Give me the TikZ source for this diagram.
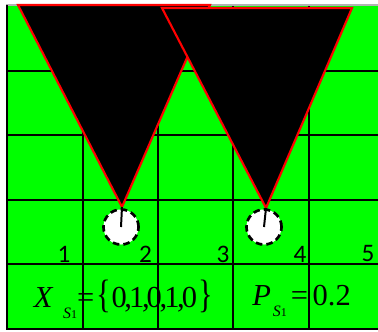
\documentclass[tikz,border=0pt]{standalone}
\usepackage{fontspec}
\setmainfont{Liberation Serif}
\newfontfamily\numfont{Carlito}
\newcommand\indS{\raisebox{-8.5pt}{\fontsize{12}{12}\selectfont\textit{S}\raisebox{-0.4pt}{\fontsize{9}{9}\selectfont 1}}}
\newcommand\virg{\kern-1.8pt,\kern-2.2pt}
\begin{document}
\begin{tikzpicture}[x=0.0265cm,y=-0.0265cm]
\definecolor{gazon}{RGB}{0,255,0}
\definecolor{rouge}{RGB}{255,0,0}
\tikzset{
  grille/.style={line width=1.2pt},
  zone/.style={fill=black,draw=rouge,line width=1.6pt},
  trou/.style={circle,draw=black,fill=white,line width=2pt,dash pattern=on 5pt off 3pt,minimum size=0.93cm,inner sep=0pt},
  numero/.style={font=\numfont\fontsize{19}{19}\selectfont,inner sep=0pt},
  formule/.style={font=\fontsize{23}{23}\selectfont,anchor=base west,inner sep=0pt}
}
\useasboundingbox (0,0) rectangle (378,332);
\fill[gazon] (7,6) rectangle (378,328);
\foreach \x in {83,158,233,309}
  \draw[grille] (\x,6) -- (\x,328);
\foreach \y in {71,135,200,264}
  \draw[grille] (7,\y) -- (378,\y);
\draw[gray!60,line width=1pt] (6,5) -- (378,5);
\draw[line width=1.5pt] (7,5) -- (7,329) -- (378,329);
% les deux cones
\coordinate (t1) at (122,207);
\coordinate (t2) at (266,208);
\draw[zone] (18,5) -- (210,5) -- (t1) -- cycle;
\draw[zone] (162,8) -- (352,8) -- (t2) -- cycle;
\node[trou] (c1) at (121,227) {};
\node[trou] (c2) at (264,227) {};
\draw[line width=1.5pt] (t1) -- (c1.center);
\draw[line width=1.5pt] (t2) -- (c2.center);
\foreach \n/\x in {1/64,2/145.5,3/223,4/300,5/368}
  \node[numero] (n\n) at (\x,254) {\n};
\node[formule] (xs) at (33.6,307)
  {\textit{X}\kern7.3pt\indS=\hspace{2pt}\scalebox{1}[1.3]{\{}0\virg1\virg0\virg1\virg0\kern1pt\scalebox{1}[1.3]{\}}};
\node[formule] (ps) at (252,305)
  {\textit{P}\kern1.5pt\indS\hspace{3pt}=\hspace{3.5pt}0.2};
\end{tikzpicture}
\end{document}
